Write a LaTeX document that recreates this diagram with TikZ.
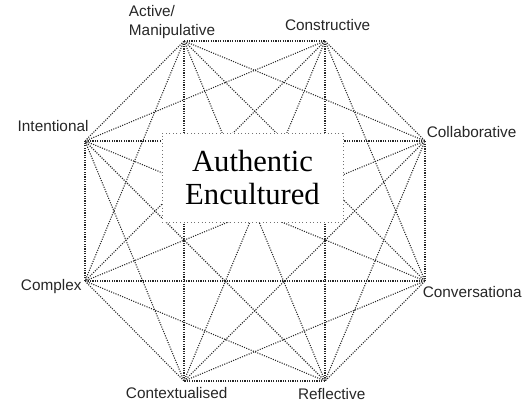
\documentclass[tikz,border=0pt]{standalone}
\usepackage{fontspec}
\setmainfont{Liberation Serif}
\newfontfamily\lblfont{Liberation Sans}
\usepackage{tikz}
\usetikzlibrary{positioning}
\tikzset{
  vtx/.style={inner sep=0pt, minimum size=0pt},
  lbl/.style={inner sep=0pt, font=\lblfont\fontsize{11.5}{14.25}\selectfont, text=black!85},
  link/.style={densely dotted, line width=0.8pt, black!85},
  core/.style={draw=black!55, dotted, line width=0.7pt, fill=white, align=center,
    minimum width=135.75pt, minimum height=66.75pt, font=\fontsize{23}{24.75}\selectfont}
}
\begin{document}
\begin{tikzpicture}[x=0.75pt, y=-0.75pt]
    \useasboundingbox (0,0) rectangle (527,403);
    \node[vtx] (1) at (184,41) {};
    \node[vtx] (2) at (325,41) {};
    \node[vtx] (3) at (425,141) {};
    \node[vtx] (4) at (425,281) {};
    \node[vtx] (5) at (325,381) {};
    \node[vtx] (6) at (184,381) {};
    \node[vtx] (7) at (85,281) {};
    \node[vtx] (8) at (85,141) {};

    \foreach \i in {1,...,7}{
      \pgfmathtruncatemacro\k{\i+1}
      \foreach \j in {\k,...,8}
        \draw[link] (\i) -- (\j);
    }

    \node[core] (centre) at (252.5,177.5) {Authentic\\Encultured};

    \node[lbl, align=left, above=1pt of 1, xshift=-9pt] (l1) {Active/\\Manipulative};
    \node[lbl, above=7.5pt of 2, xshift=2pt] (l2) {Constructive};
    \node[lbl, above right=2pt and 1pt of 3] (l3) {Collaborative};
    \node[lbl, below right=4pt and -2pt of 4] (l4) {Conversationa};
    \node[lbl, below=5.5pt of 5, xshift=5pt] (l5) {Reflective};
    \node[lbl, below=4.5pt of 6, xshift=-5.5pt] (l6) {Contextualised};
    \node[lbl, left=2.25pt of 7, yshift=-4.5pt] (l7) {Complex};
    \node[lbl, above left=6.5pt and -3pt of 8] (l8) {Intentional};
  \end{tikzpicture}
\end{document}
